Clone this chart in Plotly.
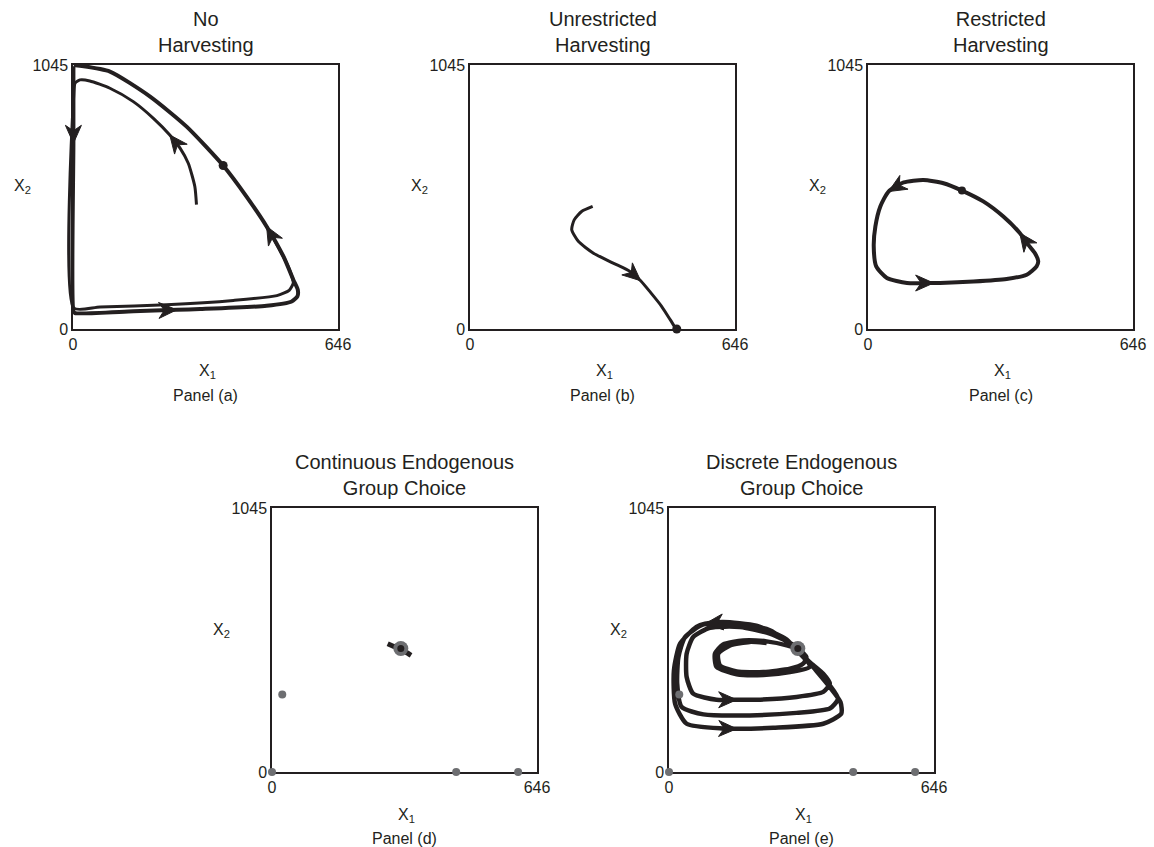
import numpy as np
import plotly.graph_objects as go

W, H = 1154, 847
X_MAX, Y_MAX = 646, 1045
INK = "#231f20"
GRAY = "#6d6e71"
FONT = "Liberation Sans, Arial, sans-serif"

# ---------------- data ----------------
titles = ["No<br>Harvesting", "Unrestricted<br>Harvesting", "Restricted<br>Harvesting",
          "Continuous Endogenous<br>Group Choice", "Discrete Endogenous<br>Group Choice"]
panel_labels = ["Panel (a)", "Panel (b)", "Panel (c)", "Panel (d)", "Panel (e)"]
x_ticks = [0, 646]
y_ticks = [0, 1045]

# Panel (a): no harvesting
a_outer_x = [1, 1, 1, 5, 147, 253, 310, 472, 533, 547, 548, 537, 513, 472, 423, 366, 277, 188, 90, 17, 2]
a_outer_y = [1040, 735, 70, 63, 70, 76, 79, 92, 109, 129, 155, 195, 287, 406, 524, 647, 801, 920, 1019, 1042, 1045]
a_outer_arrows = [1, 5, 13]
a_inner_x = [301, 297, 281, 261, 236, 196, 147, 90, 41, 17, 5, 2, 2, 66, 228, 391, 497, 527, 537, 531, 513, 472]
a_inner_y = [492, 564, 656, 716, 768, 834, 900, 953, 982, 986, 973, 933, 83, 87, 96, 113, 132, 153, 182, 221, 287, 406]
a_inner_arrows = [4]
a_eq_x, a_eq_y = [366], [647]

# Panel (b): unrestricted harvesting
b_x = [299, 272, 254, 248, 264, 301, 349, 390, 416, 440, 467, 488, 502]
b_y = [485, 465, 432, 393, 347, 300, 261, 228, 191, 145, 90, 37, 0]
b_arrows = [8]
b_eq_x, b_eq_y = [504], [0]

# Panel (c): restricted harvesting
c_x = [229, 184, 135, 87, 50, 30, 18, 14, 20, 46, 95, 160, 176, 257, 338, 387, 411, 415, 407, 391, 370, 330, 281, 229]
c_y = [548, 577, 590, 580, 544, 485, 406, 327, 248, 202, 182, 182, 182, 188, 198, 215, 248, 268, 300, 333, 380, 445, 505, 548]
c_arrows = [4, 11, 20]
c_eq_x, c_eq_y = [229], [548]

# Panels (d), (e): equilibria
eq_gray_x = [0, 449, 600, 25]
eq_gray_y = [0, 0, 0, 307]
eq_int_x, eq_int_y = [314], [489]

# Panel (d): continuous endogenous group choice
d_x = [282, 297, 313, 327, 339]
d_y = [508, 497, 486, 474, 462]

# Panel (e): discrete endogenous group choice (spiral loops)
e_loop1_x = [238, 197, 149, 120, 124, 165, 230, 295, 327, 335, 319, 287, 238, 181, 132, 112, 116, 165, 230, 295, 343]
e_loop1_y = [511, 515, 501, 468, 422, 398, 396, 409, 429, 455, 482, 501, 517, 521, 505, 468, 416, 387, 384, 396, 416]
e_loop2_x = [313, 246, 173, 100, 59, 43, 43, 59, 116, 165, 213, 311, 376, 392, 376, 343, 315]
e_loop2_y = [492, 548, 574, 571, 534, 468, 376, 310, 286, 286, 286, 297, 317, 350, 389, 435, 479]
e_loop3_x = [246, 165, 84, 39, 23, 20, 31, 84, 197, 311, 392, 412, 392, 351, 315]
e_loop3_y = [561, 587, 584, 534, 455, 350, 257, 228, 224, 234, 251, 290, 343, 416, 475]
e_loop4_x = [287, 213, 132, 88, 67, 27, 12, 15, 43, 132, 165, 254, 376, 420, 418, 392, 351, 317]
e_loop4_y = [524, 579, 594, 587, 574, 508, 402, 270, 191, 172, 171, 175, 191, 231, 277, 336, 416, 482]
e_arrows = [30, 56, 63]

# ---------------- layout geometry (window pixels) ----------------
panels_px = [  # left, right, top, bottom
    (73, 338, 65, 329),
    (470, 735, 65, 329),
    (868, 1133, 65, 329),
    (272, 537, 508, 772),
    (669, 934, 508, 772),
]
PW = 265.0
PH = 264.0
PAD = 12.0  # drawing area extends beyond the frame so edge strokes are not clipped
KX = PW / X_MAX
KY = PH / Y_MAX


def fx(px):
    return px / W


def fy(py):
    return 1 - py / H


def dart(xs, ys, i, L=18.0, hw=8.0, notch=5.5):
    x0, y0 = xs[i - 1], ys[i - 1]
    x1, y1 = xs[i], ys[i]
    dx, dy = (x1 - x0) * KX, (y1 - y0) * KY
    n = np.hypot(dx, dy)
    ux, uy = dx / n, dy / n
    px, py = -uy, ux
    pts = [(0, 0), (-L * ux + hw * px, -L * uy + hw * py), (-(L - notch) * ux, -(L - notch) * uy),
           (-L * ux - hw * px, -L * uy - hw * py), (0, 0)]
    return [x1 + p / KX for p, q in pts], [y1 + q / KY for p, q in pts]


def darts(xs, ys, idxs):
    ax, ay = [], []
    for i in idxs:
        px, py = dart(xs, ys, i)
        ax += px + [None]
        ay += py + [None]
    return ax, ay


fig = go.Figure()


def ax_ref(k):
    n = k + 5  # hidden drawing axes of panel k
    return f"x{n}", f"y{n}"


def add_line(k, xs, ys, width):
    xa, ya = ax_ref(k)
    fig.add_trace(go.Scatter(x=xs, y=ys, mode="lines",
                             line=dict(color=INK, width=width, shape="spline", smoothing=0.6),
                             xaxis=xa, yaxis=ya, hoverinfo="skip"))


def add_arrows(k, xs, ys, idxs):
    xa, ya = ax_ref(k)
    ax, ay = darts(xs, ys, idxs)
    fig.add_trace(go.Scatter(x=ax, y=ay, mode="lines", fill="toself", fillcolor=INK,
                             line=dict(color=INK, width=1), xaxis=xa, yaxis=ya, hoverinfo="skip"))


def add_pts(k, xs, ys, size, color):
    xa, ya = ax_ref(k)
    fig.add_trace(go.Scatter(x=xs, y=ys, mode="markers", marker=dict(size=size, color=color, line=dict(width=0)),
                             cliponaxis=False, xaxis=xa, yaxis=ya, hoverinfo="skip"))


for k in range(1, 6):
    s = "" if k == 1 else str(k)
    fig.add_trace(go.Scatter(x=[None], y=[None], mode="markers", xaxis=f"x{s}", yaxis=f"y{s}", hoverinfo="skip"))

# Panel a
add_line(1, a_outer_x, a_outer_y, 4)
add_line(1, a_inner_x, a_inner_y, 3)
add_arrows(1, a_outer_x, a_outer_y, a_outer_arrows)
add_arrows(1, a_inner_x, a_inner_y, a_inner_arrows)
add_pts(1, a_eq_x, a_eq_y, 9, INK)

# Panel b
add_line(2, b_x, b_y, 3)
add_arrows(2, b_x, b_y, b_arrows)
add_pts(2, b_eq_x, b_eq_y, 9, INK)

# Panel c
add_line(3, c_x, c_y, 4)
add_arrows(3, c_x, c_y, c_arrows)
add_pts(3, c_eq_x, c_eq_y, 8, INK)

# Panel d
add_pts(4, eq_gray_x, eq_gray_y, 8, GRAY)
add_line(4, d_x, d_y, 5)
add_pts(4, eq_int_x, eq_int_y, 15, GRAY)
add_pts(4, eq_int_x, eq_int_y, 7, INK)

# Panel e
e_x = e_loop1_x + e_loop2_x + e_loop3_x + e_loop4_x
e_y = e_loop1_y + e_loop2_y + e_loop3_y + e_loop4_y
add_line(5, e_x, e_y, 4.5)
add_arrows(5, e_x, e_y, e_arrows)
add_pts(5, eq_gray_x, eq_gray_y, 8, GRAY)
add_pts(5, eq_int_x, eq_int_y, 15, GRAY)
add_pts(5, eq_int_x, eq_int_y, 7, INK)

layout = dict(
    width=W, height=H, margin=dict(l=0, r=0, t=0, b=0, pad=0, autoexpand=False), autosize=False,
    paper_bgcolor="white", plot_bgcolor="rgba(0,0,0,0)", showlegend=False,
    font=dict(family=FONT, color=INK, size=16),
)
annotations = []
tick_font = dict(size=16, family=FONT, color=INK)
for k, (l, r, t, b) in enumerate(panels_px, start=1):
    sx = "" if k == 1 else str(k)
    layout[f"xaxis{sx}"] = dict(
        domain=[fx(l), fx(r)], range=[0, X_MAX], anchor=f"y{sx}", automargin=False,
        tickvals=x_ticks, ticktext=[str(v) for v in x_ticks], ticks="",
        showline=True, mirror=True, linecolor=INK, linewidth=1.5,
        showgrid=False, zeroline=False, tickfont=tick_font, fixedrange=True)
    layout[f"yaxis{sx}"] = dict(
        domain=[fy(b), fy(t)], range=[0, Y_MAX], anchor=f"x{sx}", automargin=False,
        tickvals=y_ticks, ticktext=[str(v) for v in y_ticks], ticks="",
        showline=True, mirror=True, linecolor=INK, linewidth=1.5,
        showgrid=False, zeroline=False, tickfont=tick_font, fixedrange=True)
    n = k + 5
    layout[f"xaxis{n}"] = dict(
        domain=[fx(l - PAD), fx(r + PAD)], range=[-PAD / KX, X_MAX + PAD / KX],
        anchor=f"y{n}", visible=False, fixedrange=True, automargin=False)
    layout[f"yaxis{n}"] = dict(
        domain=[fy(b + PAD), fy(t - PAD)], range=[-PAD / KY, Y_MAX + PAD / KY],
        anchor=f"x{n}", visible=False, fixedrange=True, automargin=False)
    cx = (l + r) / 2
    annotations.append(dict(text=titles[k - 1], x=fx(cx), y=fy(t - 33), xref="paper", yref="paper",
                            xanchor="center", yanchor="middle", showarrow=False,
                            font=dict(size=20, family=FONT, color=INK)))
    annotations.append(dict(text="X<sub>1</sub>", x=fx(cx + 2), y=fy(b + 43), xref="paper", yref="paper",
                            xanchor="center", yanchor="middle", showarrow=False,
                            font=dict(size=16, family=FONT, color=INK)))
    annotations.append(dict(text=panel_labels[k - 1], x=fx(cx), y=fy(b + 66), xref="paper", yref="paper",
                            xanchor="center", yanchor="middle", showarrow=False,
                            font=dict(size=16, family=FONT, color=INK)))
    annotations.append(dict(text="X<sub>2</sub>", x=fx(l - 51), y=fy((t + b) / 2 - 10), xref="paper",
                            yref="paper", xanchor="center", yanchor="middle", showarrow=False,
                            font=dict(size=16, family=FONT, color=INK)))
layout["annotations"] = annotations
fig.update_layout(**layout)

fig.write_html("out.html", config={"displayModeBar": False},
               post_script="document.body.style.margin='0';document.body.style.overflow='hidden';")
